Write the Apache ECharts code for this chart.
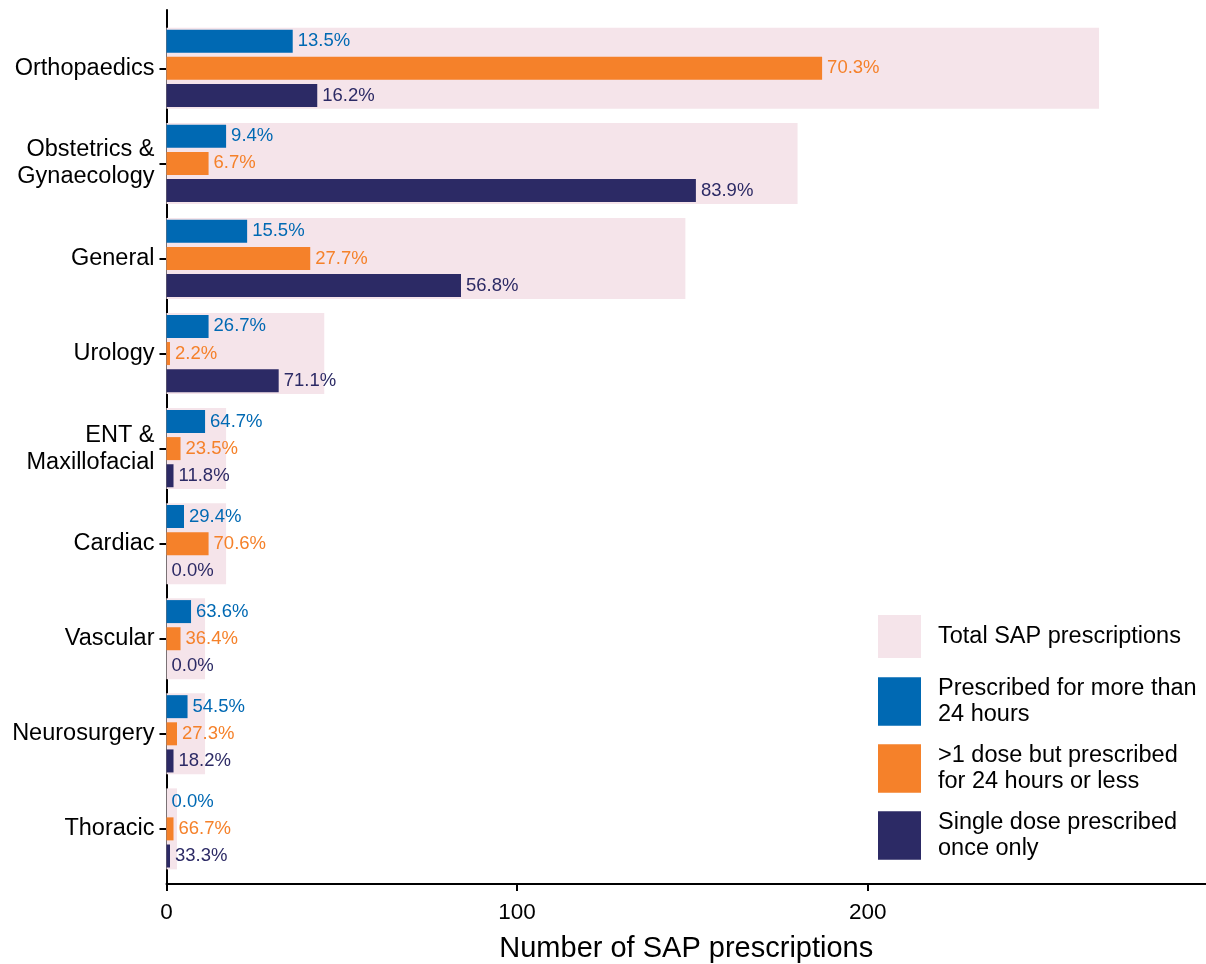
<!DOCTYPE html>
<html>
<head>
<meta charset="utf-8">
<script src="https://cdn.jsdelivr.net/npm/echarts@6/dist/echarts.min.js"></script>
<style>
html,body{margin:0;padding:0;background:#fff;}
#chart{width:1206px;height:964px;}
</style>
</head>
<body>
<div id="chart"></div>
<script>
// ---- data ----
const categories = ['Orthopaedics', 'Obstetrics &\nGynaecology', 'General', 'Urology', 'ENT &\nMaxillofacial', 'Cardiac', 'Vascular', 'Neurosurgery', 'Thoracic'];
const totalSAP = [266, 180, 148, 45, 17, 17, 11, 11, 3];
const over24h = [36, 17, 23, 12, 11, 5, 7, 6, 0];
const multiUnder24h = [187, 12, 41, 1, 4, 12, 4, 3, 2];
const singleDose = [43, 151, 84, 32, 2, 0, 0, 2, 1];
const seriesNames = ['Total SAP prescriptions', 'Prescribed for more than\n24 hours', '>1 dose but prescribed\nfor 24 hours or less', 'Single dose prescribed\nonce only'];
const xTicks = [0, 100, 200];
const xTitle = 'Number of SAP prescriptions';

const colors = { total: '#F5E4EA', over: '#0069B3', under: '#F5812A', single: '#2C2A65' };
const FONT = 'Liberation Sans, Arial, Helvetica, sans-serif';
const XMAX = 296.5;

function pctLabel(color) {
  return {
    show: true, position: 'right', distance: 5,
    color: color, fontSize: 18.5, fontFamily: FONT,
    formatter: p => (p.value / totalSAP[p.dataIndex] * 100).toFixed(1) + '%'
  };
}

const chart = echarts.init(document.getElementById('chart'), null, { renderer: 'canvas' });
chart.setOption({
  animation: false,
  backgroundColor: '#fff',
  grid: [
    { left: 166.5, right: 0, top: 10, bottom: 80, containLabel: false, outerBoundsMode: 'none' },
    { left: 166.5, right: 0, top: 20.8, bottom: 87.6, containLabel: false, outerBoundsMode: 'none' }
  ],
  xAxis: [
    {
      gridIndex: 0, type: 'value', min: 0, max: XMAX,
      axisLine: { show: true, onZero: false, lineStyle: { color: '#000', width: 2 } },
      axisTick: { show: true, length: 7, customValues: xTicks, lineStyle: { color: '#000', width: 2 } },
      axisLabel: { show: true, customValues: xTicks, margin: 17, fontSize: 22.5, color: '#000', fontFamily: FONT },
      splitLine: { show: false },
      name: xTitle, nameLocation: 'middle', nameGap: 50,
      nameTextStyle: { fontSize: 29, color: '#000', fontFamily: FONT }
    },
    {
      gridIndex: 1, type: 'value', min: 0, max: XMAX, show: false,
      splitLine: { show: false }
    }
  ],
  yAxis: [
    {
      gridIndex: 0, type: 'value', min: 0, max: 1,
      axisLine: { show: true, onZero: false, lineStyle: { color: '#000', width: 2 } },
      axisTick: { show: false }, axisLabel: { show: false }, splitLine: { show: false }
    },
    {
      gridIndex: 1, type: 'category', data: categories, inverse: true,
      axisLine: { show: false },
      axisTick: { show: true, alignWithLabel: true, length: 7, lineStyle: { color: '#000', width: 2 } },
      axisLabel: { show: true, margin: 12, fontSize: 23.5, lineHeight: 27, color: '#000', fontFamily: FONT, align: 'right' },
      splitLine: { show: false }
    },
    {
      gridIndex: 1, type: 'category', data: categories, inverse: true, show: false
    }
  ],
  legend: [
    {
      data: [seriesNames[0]], orient: 'vertical', left: 878, top: 615, padding: 0,
      itemWidth: 43, itemHeight: 43, icon: 'rect', selectedMode: false,
      textStyle: { fontSize: 23.5, color: '#000', fontFamily: FONT, padding: [0, 0, 0, 12] }
    },
    {
      data: seriesNames.slice(1), orient: 'vertical', left: 878, top: 675, padding: 0,
      itemWidth: 43, itemHeight: 48.5, itemGap: 14, icon: 'rect', selectedMode: false,
      textStyle: { fontSize: 23.5, lineHeight: 26.5, color: '#000', fontFamily: FONT, padding: [0, 0, 0, 12] }
    }
  ],
  series: [
    {
      name: seriesNames[0], type: 'bar', xAxisIndex: 1, yAxisIndex: 2,
      data: totalSAP, barWidth: 81, silent: true,
      itemStyle: { color: colors.total }
    },
    {
      name: seriesNames[1], type: 'bar', xAxisIndex: 1, yAxisIndex: 1,
      data: over24h, barWidth: 23, barGap: '18%', silent: true,
      itemStyle: { color: colors.over }, label: pctLabel(colors.over)
    },
    {
      name: seriesNames[2], type: 'bar', xAxisIndex: 1, yAxisIndex: 1,
      data: multiUnder24h, barWidth: 23, barGap: '18%', silent: true,
      itemStyle: { color: colors.under }, label: pctLabel(colors.under)
    },
    {
      name: seriesNames[3], type: 'bar', xAxisIndex: 1, yAxisIndex: 1,
      data: singleDose, barWidth: 23, barGap: '18%', silent: true,
      itemStyle: { color: colors.single }, label: pctLabel(colors.single)
    }
  ]
});
</script>
</body>
</html>
